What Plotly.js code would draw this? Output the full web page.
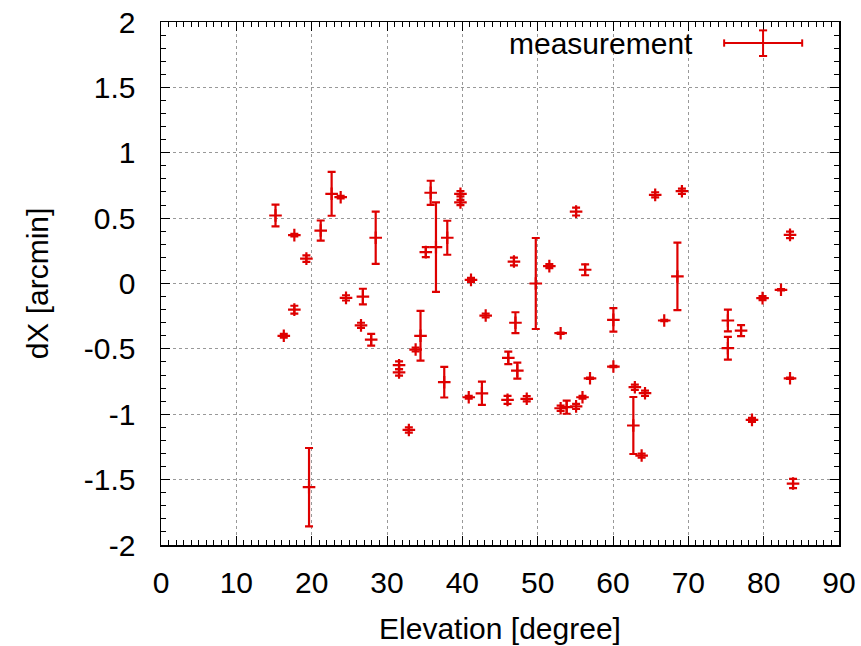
<!DOCTYPE html>
<html>
<head>
<meta charset="utf-8">
<script src="https://cdn.plot.ly/plotly-3.0.1.min.js"></script>
<style>html,body{margin:0;padding:0;background:#fff;}#chart{width:861px;height:646px;}</style>
</head>
<body>
<div id="chart"></div>
<script>
const elevation = [15.2, 16.3, 17.7, 17.7, 19.3, 19.65, 21.2, 22.65, 23.85, 24.56,
  26.55, 26.8, 27.9, 28.5, 31.6, 31.6, 32.9, 33.8, 34.45, 35.15,
  35.8, 36.5, 37.6, 38.0, 39.75, 39.75, 40.85, 41.15, 42.6, 43.1,
  46.0, 46.1, 46.85, 47.05, 47.3, 48.55, 49.75, 51.55, 53.05, 53.05,
  53.85, 55.1, 55.1, 55.95, 56.3, 56.95, 60.05, 60.05, 62.7, 62.9,
  63.8, 64.25, 65.6, 66.8, 68.55, 69.15, 75.25, 75.25, 77.0, 78.45,
  79.85, 82.3, 83.5, 83.5, 83.9];
const dX = [0.52, -0.40, 0.37, -0.20, 0.19, -1.558, 0.405, 0.686, 0.66, -0.11,
  -0.32, -0.10, -0.43, 0.35, -0.625, -0.68, -1.12, -0.505, -0.40, 0.24,
  0.694, 0.278, -0.755, 0.35, 0.686, 0.62, -0.87, 0.028, -0.84, -0.245,
  -0.89, -0.569, 0.168, -0.30, -0.666, -0.882, 0.0, 0.133, -0.38, -0.954,
  -0.946, 0.55, -0.94, -0.87, 0.105, -0.725, -0.278, -0.635, -1.086, -0.793,
  -1.316, -0.839, 0.678, -0.283, 0.054, 0.706, -0.283, -0.495, -0.36, -1.043,
  -0.112, -0.048, 0.372, -0.725, -1.53];
const dXerr = [0.083, 0.015, 0.01, 0.03, 0.025, 0.30, 0.077, 0.168, 0.01, 0.02,
  0.02, 0.06, 0.045, 0.2, 0.03, 0.025, 0.02, 0.015, 0.19, 0.038,
  0.092, 0.342, 0.117, 0.13, 0.02, 0.02, 0.01, 0.015, 0.089, 0.015,
  0.03, 0.048, 0.03, 0.08, 0.061, 0.02, 0.348, 0.015, 0.005, 0.02,
  0.05, 0.03, 0.02, 0.01, 0.042, 0.005, 0.09, 0.005, 0.218, 0.02,
  0.015, 0.02, 0.02, 0.005, 0.258, 0.02, 0.083, 0.087, 0.042, 0.015,
  0.015, 0.005, 0.025, 0.005, 0.035];
const xTicks = [0, 10, 20, 30, 40, 50, 60, 70, 80, 90];
const yTicks = [2, 1.5, 1, 0.5, 0, -0.5, -1, -1.5, -2];
const yTickText = ['2', '1.5', '1', '0.5', '0', '-0.5', '-1', '-1.5', '-2'];
const seriesName = 'measurement';

const red = 'rgb(222,0,0)';
const font = {family: 'Liberation Sans, Arial, sans-serif', size: 30, color: '#000'};

const trace = {
  x: elevation, y: dX, type: 'scatter', mode: 'markers', name: seriesName,
  marker: {symbol: 'cross-thin', size: 9, color: red, line: {color: red, width: 2.2}},
  error_y: {type: 'data', array: dXerr, visible: true, color: red, thickness: 2.2, width: 4},
  showlegend: false, hoverinfo: 'x+y'
};

// legend sample (paper coords)
const lx0 = 0.8306, lx1 = 0.9457, lxc = 0.888, ly = 0.9598;
const shapes = [
  {type: 'line', xref: 'paper', yref: 'paper', x0: lx0, x1: lx1, y0: ly, y1: ly, line: {color: red, width: 2}},
  {type: 'line', xref: 'paper', yref: 'paper', x0: lx0, x1: lx0, y0: ly - 0.007, y1: ly + 0.007, line: {color: red, width: 2}},
  {type: 'line', xref: 'paper', yref: 'paper', x0: lx1, x1: lx1, y0: ly - 0.007, y1: ly + 0.007, line: {color: red, width: 2}},
  {type: 'line', xref: 'paper', yref: 'paper', x0: lxc, x1: lxc, y0: 0.935, y1: 0.984, line: {color: red, width: 2}},
  {type: 'line', xref: 'paper', yref: 'paper', x0: lxc - 0.006, x1: lxc + 0.006, y0: 0.984, y1: 0.984, line: {color: red, width: 2}},
  {type: 'line', xref: 'paper', yref: 'paper', x0: lxc - 0.006, x1: lxc + 0.006, y0: 0.935, y1: 0.935, line: {color: red, width: 2}}
];

const layout = {
  width: 861, height: 646,
  margin: {l: 161, r: 22, t: 22, b: 101},
  paper_bgcolor: '#fff', plot_bgcolor: '#fff',
  font: font,
  showlegend: false,
  xaxis: {
    range: [0, 90], tickvals: xTicks, ticktext: xTicks.map(String),
    ticks: 'inside', ticklen: 9, tickwidth: 1, tickcolor: '#000',
    showline: true, linecolor: '#000', linewidth: 1.5, mirror: 'ticks',
    showgrid: true, gridcolor: '#999', griddash: 'dot', gridwidth: 1,
    zeroline: false, tickfont: font, ticklabelstandoff: 10,
    minor: {ticks: 'inside', dtick: 1, ticklen: 5, tickcolor: '#000', showgrid: false},
    title: {text: 'Elevation [degree]', font: font, standoff: 20}
  },
  yaxis: {
    range: [-2, 2], tickvals: yTicks, ticktext: yTickText,
    ticks: 'inside', ticklen: 9, tickwidth: 1, tickcolor: '#000',
    showline: true, linecolor: '#000', linewidth: 1.5, mirror: 'ticks',
    showgrid: true, gridcolor: '#999', griddash: 'dot', gridwidth: 1,
    zeroline: false, tickfont: font, ticklabelstandoff: 18,
    minor: {ticks: 'inside', dtick: 0.1, ticklen: 5, tickcolor: '#000', showgrid: false},
    title: {text: 'dX [arcmin]', font: font, standoff: 26}
  },
  shapes: shapes,
  annotations: [{
    xref: 'paper', yref: 'paper', x: 0.7877, y: ly, xanchor: 'right', yanchor: 'middle',
    text: seriesName, showarrow: false, font: font
  }]
};

Plotly.newPlot('chart', [trace], layout, {displayModeBar: false, staticPlot: true});
</script>
</body>
</html>
